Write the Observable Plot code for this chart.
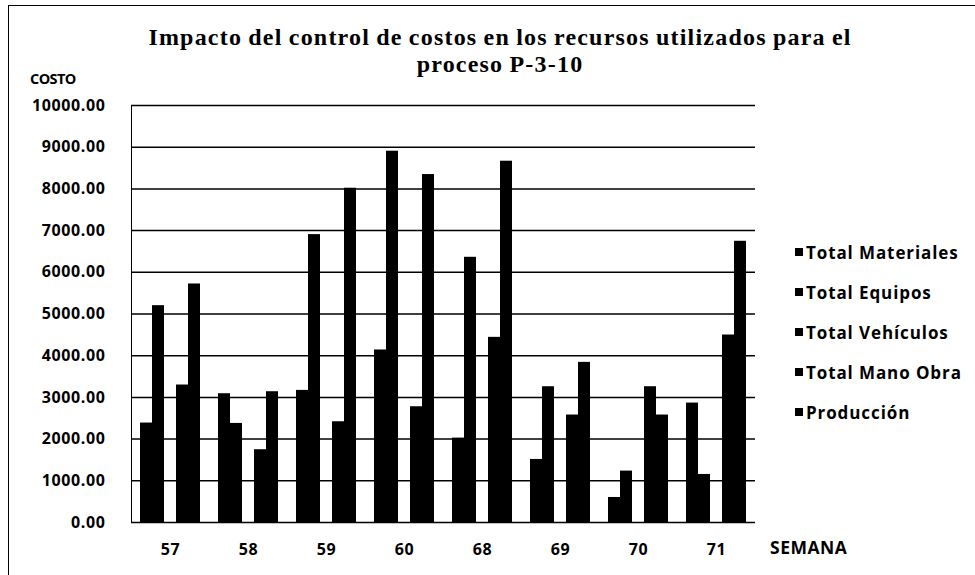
<!DOCTYPE html>
<html>
<head>
<meta charset="utf-8">
<script src="https://cdn.jsdelivr.net/npm/d3@7"></script>
<script src="https://cdn.jsdelivr.net/npm/@observablehq/plot@0.6"></script>
<style>
  html, body { margin: 0; padding: 0; background: #fff; }
  #wrap { position: relative; width: 975px; height: 575px; overflow: hidden; font-family: "Open Sans", Lato, sans-serif; color: #000; }
  #border { position: absolute; left: 8px; top: 5px; width: 1000px; height: 600px; border-left: 1.5px solid #000; border-top: 1.5px solid #000; }
  #title { position: absolute; left: 0; width: 1000px; top: 24px; text-align: center; font-family: "Liberation Serif", serif; font-weight: bold; font-size: 24px; line-height: 27px; letter-spacing: 1.2px; word-spacing: -1px; }
  #ylabel { position: absolute; left: 30px; top: 69px; font-weight: bold; font-size: 14.5px; letter-spacing: -0.6px; }
  #xlabel { position: absolute; left: 770px; top: 535px; font-weight: bold; font-size: 17.5px; letter-spacing: 0.5px; }
  #legend { position: absolute; left: 795px; top: 240px; }
  .item { display: flex; align-items: center; font-weight: bold; font-size: 17px; letter-spacing: 0.9px; height: 24px; margin-bottom: 16px; }
  .sw { width: 8px; height: 8px; background: #000; margin-right: 3px; }
  #chart { position: absolute; left: 0; top: 0; }
</style>
</head>
<body>
<div id="wrap">
  <div id="border"></div>
  <div id="chart"></div>
  <div id="title"></div>
  <div id="ylabel"></div>
  <div id="xlabel"></div>
  <div id="legend"></div>
</div>
<script>
const titleLines = ["Impacto del control de costos en los recursos utilizados para el", "proceso P-3-10"];
const yLabel = "COSTO";
const xLabel = "SEMANA";
const semanas = ["57", "58", "59", "60", "68", "69", "70", "71"];
const series = ["Total Materiales", "Total Equipos", "Total Vehículos", "Total Mano Obra", "Producción"];
const totalMateriales = [2385, 3088, 3168, 4137, 2024, 1512, 600, 2864];
const totalEquipos = [5200, 2376, 6904, 8904, 6360, 3256, 1233, 1152];
const totalVehiculos = [0, 0, 0, 0, 0, 0, 0, 0];
const totalManoObra = [3297, 1745, 2416, 2776, 4440, 2577, 3256, 4496];
const produccion = [5720, 3136, 8016, 8344, 8664, 3840, 2577, 6744];
const yTicks = [0, 1000, 2000, 3000, 4000, 5000, 6000, 7000, 8000, 9000, 10000];

const valuesBySeries = [totalMateriales, totalEquipos, totalVehiculos, totalManoObra, produccion];
const data = [];
semanas.forEach((s, i) => {
  series.forEach((name, j) => {
    data.push({semana: s, serie: name, valor: valuesBySeries[j][i]});
  });
});

document.getElementById("title").innerHTML = titleLines.join("<br>");
document.getElementById("ylabel").textContent = yLabel;
document.getElementById("xlabel").textContent = xLabel;
const legend = document.getElementById("legend");
series.forEach(name => {
  const it = document.createElement("div");
  it.className = "item";
  const sw = document.createElement("div");
  sw.className = "sw";
  const tx = document.createElement("span");
  tx.textContent = name;
  it.appendChild(sw);
  it.appendChild(tx);
  legend.appendChild(it);
});

const chart = Plot.plot({
  width: 975,
  height: 575,
  marginLeft: 127,
  marginRight: 217,
  marginTop: 105,
  marginBottom: 53,
  style: {fontFamily: "'Open Sans', Lato, sans-serif", fontSize: "16px", fontWeight: "bold", color: "#000", background: "transparent", letterSpacing: "0.6px"},
  fx: {domain: semanas, padding: 0, label: null, axis: "bottom", tickSize: 0, tickPadding: 21},
  x: {domain: series, paddingInner: 0, paddingOuter: 0.75, axis: null},
  y: {domain: [0, 10000], ticks: yTicks, tickFormat: d => d.toFixed(2), tickSize: 0, tickPadding: 26, label: null, line: true},
  marks: [
    Plot.ruleY(yTicks, {stroke: "#000", strokeWidth: 1.5}),
    Plot.barY(data, {fx: "semana", x: "serie", y: "valor", fill: "#000", inset: 0})
  ]
});
document.getElementById("chart").appendChild(chart);
</script>
</body>
</html>
